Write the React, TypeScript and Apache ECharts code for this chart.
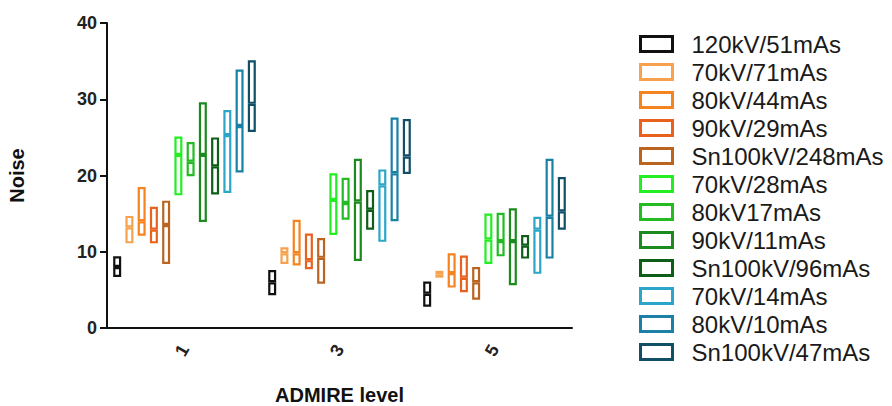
import React, { useEffect, useRef } from "react";
import * as echarts from "echarts";

const categories = ["1", "3", "5"];
const yTicks = { min: 0, max: 40, interval: 10 };

const seriesNames = [
  "120kV/51mAs",
  "70kV/71mAs",
  "80kV/44mAs",
  "90kV/29mAs",
  "Sn100kV/248mAs",
  "70kV/28mAs",
  "80kV17mAs",
  "90kV/11mAs",
  "Sn100kV/96mAs",
  "70kV/14mAs",
  "80kV/10mAs",
  "Sn100kV/47mAs",
];

const seriesColors = [
  "#111111",
  "#F6A24E",
  "#F5831F",
  "#E8621D",
  "#BA6420",
  "#22EE22",
  "#22BB22",
  "#1C8A1C",
  "#0F5E18",
  "#2BA6C9",
  "#1B80A6",
  "#114F66",
];

// per series: values at ADMIRE level 1, 3, 5
const minValues = [
  [6.7, 4.3, 2.8],
  [11.1, 8.4, 6.6],
  [12.1, 8.2, 5.3],
  [11.1, 7.7, 4.7],
  [8.4, 5.8, 3.7],
  [17.4, 12.2, 8.4],
  [19.9, 14.2, 9.4],
  [13.9, 8.8, 5.6],
  [17.5, 12.9, 9.1],
  [17.7, 11.3, 7.1],
  [20.4, 14.0, 9.1],
  [25.7, 20.2, 12.9],
];

const medianValues = [
  [8.0, 6.0, 4.5],
  [13.2, 9.8, 7.0],
  [14.0, 9.8, 7.2],
  [12.9, 8.9, 6.6],
  [13.5, 9.2, 6.0],
  [22.7, 16.8, 11.6],
  [21.8, 16.4, 11.4],
  [22.7, 16.6, 11.4],
  [21.2, 15.5, 10.8],
  [25.3, 18.7, 12.9],
  [26.5, 20.3, 14.6],
  [29.4, 22.5, 15.3],
];

const maxValues = [
  [9.4, 7.6, 6.1],
  [14.7, 10.6, 7.5],
  [18.5, 14.2, 9.8],
  [15.9, 12.4, 9.5],
  [16.7, 11.8, 8.0],
  [25.1, 20.3, 15.0],
  [24.4, 19.7, 15.1],
  [29.6, 22.2, 15.7],
  [25.0, 18.1, 12.2],
  [28.6, 20.8, 14.6],
  [33.9, 27.6, 22.2],
  [35.1, 27.4, 19.8],
];

const FONT = "'Liberation Sans', Arial, sans-serif";

export default function App() {
  const ref = useRef<HTMLDivElement>(null);

  useEffect(() => {
    if (!ref.current) return;
    const chart = echarts.init(ref.current, undefined, { renderer: "svg" });

    const series: any[] = [];
    seriesNames.forEach((name, i) => {
      const stack = "s" + i;
      const common = {
        type: "bar",
        stack,
        barWidth: 8,
        barGap: "53%",
        silent: true,
      };
      series.push({
        ...common,
        name: "_base" + i,
        data: minValues[i],
        itemStyle: { color: "transparent" },
      });
      series.push({
        ...common,
        name,
        data: medianValues[i].map((m, k) => +(m - minValues[i][k]).toFixed(3)),
        itemStyle: { color: "transparent", borderColor: seriesColors[i], borderWidth: 2.2 },
      });
      series.push({
        ...common,
        name,
        data: maxValues[i].map((m, k) => +(m - medianValues[i][k]).toFixed(3)),
        itemStyle: { color: "transparent", borderColor: seriesColors[i], borderWidth: 2.2 },
      });
    });

    chart.setOption({
      animation: false,
      textStyle: { fontFamily: FONT },
      grid: {
        left: 107,
        right: 320,
        top: 23,
        bottom: 78,
        containLabel: false,
        outerBoundsMode: "none",
      },
      legend: {
        orient: "vertical",
        left: 639,
        top: 32,
        padding: 0,
        itemWidth: 32,
        itemHeight: 15,
        itemGap: 4,
        selectedMode: false,
        textStyle: {
          fontFamily: FONT,
          fontSize: 24,
          lineHeight: 24,
          color: "#1a1a1a",
          padding: [0, 0, 0, 14],
        },
        data: seriesNames.map((name, i) => ({
          name,
          icon: "rect",
          itemStyle: { color: "transparent", borderColor: seriesColors[i], borderWidth: 3 },
        })),
      },
      xAxis: {
        type: "category",
        data: categories,
        name: "ADMIRE level",
        nameLocation: "middle",
        nameGap: 57,
        nameTextStyle: {
          fontFamily: FONT,
          fontSize: 20,
          lineHeight: 20,
          fontWeight: "bold",
          color: "#111",
        },
        axisLine: { lineStyle: { color: "#111", width: 2 } },
        axisTick: { alignWithLabel: true, length: 7, lineStyle: { color: "#111", width: 2 } },
        axisLabel: {
          rotate: 60,
          fontSize: 18,
          fontWeight: "bold",
          color: "#222",
          margin: 18,
          fontFamily: FONT,
        },
      },
      yAxis: {
        type: "value",
        min: yTicks.min,
        max: yTicks.max,
        interval: yTicks.interval,
        name: "Noise",
        nameLocation: "middle",
        nameGap: 80,
        nameTextStyle: { fontFamily: FONT, fontSize: 20, fontWeight: "bold", color: "#111" },
        axisLine: { show: true, lineStyle: { color: "#111", width: 2 } },
        axisTick: { show: true, length: 7, lineStyle: { color: "#111", width: 2 } },
        splitLine: { show: false },
        axisLabel: {
          fontSize: 18,
          fontWeight: "bold",
          color: "#222",
          margin: 10,
          fontFamily: FONT,
        },
      },
      series,
    });

    return () => chart.dispose();
  }, []);

  return (
    <div
      ref={ref}
      style={{ position: "fixed", left: 0, top: 0, width: 892, height: 406, background: "#fff" }}
    />
  );
}
